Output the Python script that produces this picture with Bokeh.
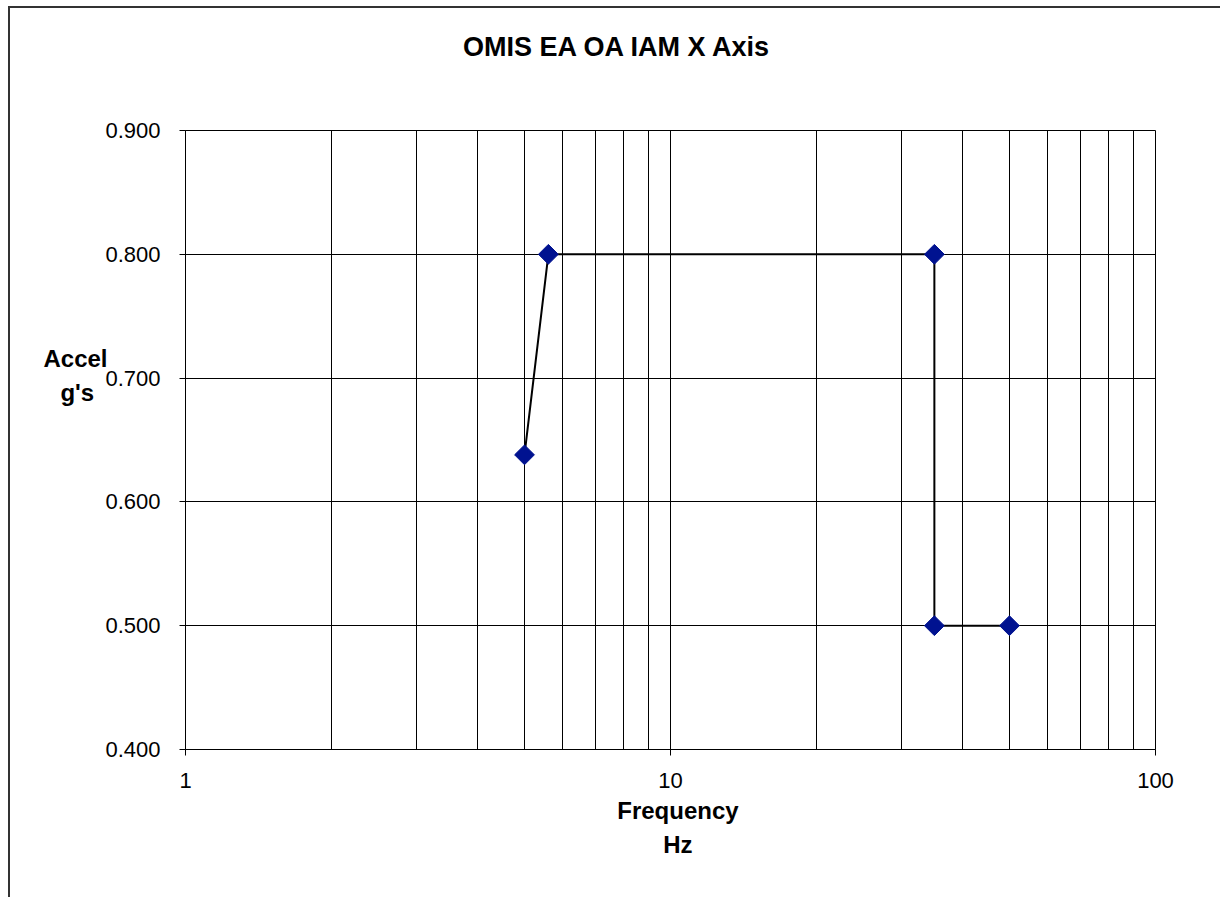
from bokeh.plotting import figure
from bokeh.models import (FixedTicker, Range1d, NumeralTickFormatter,
                          CustomJSTickFormatter, LinearAxis, LogAxis)
from bokeh.embed import file_html
from bokeh.resources import INLINE
import math

# Data
freq_hz = [5.0, 5.6, 35.0, 35.0, 50.0]
accel_g = [0.638, 0.800, 0.800, 0.500, 0.500]

x_major_ticks = [1, 10, 100]
x_minor_ticks = [2, 3, 4, 5, 6, 7, 8, 9, 20, 30, 40, 50, 60, 70, 80, 90]
y_ticks = [0.4, 0.5, 0.6, 0.7, 0.8, 0.9]

title_text = "OMIS EA OA IAM X Axis"
x_label_lines = ["Frequency", "Hz"]
y_label_lines = ["Accel", "g's\u00a0\u00a0"]

FONT = "Liberation Sans"

p = figure(width=1212, height=891, x_axis_type="log",
           x_range=Range1d(1, 100), y_range=Range1d(0.4, 0.9),
           output_backend="svg", toolbar_location=None, title=None,
           min_border_left=175, min_border_right=67,
           min_border_top=122, min_border_bottom=150)
p.styles = {"margin-left": "8px", "margin-top": "6px",
            "border-left": "2px solid #333333", "border-top": "2px solid #333333"}
p.background_fill_color = "white"
p.border_fill_color = "white"
p.outline_line_color = "black"
p.outline_line_width = 1

# main axes
xt = FixedTicker(ticks=x_major_ticks, minor_ticks=x_minor_ticks)
p.xaxis.ticker = xt
p.xaxis.formatter = CustomJSTickFormatter(code="return tick.toFixed(0);")
p.yaxis.ticker = FixedTicker(ticks=y_ticks)
p.yaxis.formatter = NumeralTickFormatter(format="0.000")
for ax in (p.xaxis[0], p.yaxis[0]):
    ax.axis_line_color = "black"
    ax.major_tick_line_color = "black"
    ax.major_tick_out = 6
    ax.major_tick_in = 0
    ax.minor_tick_line_color = None
    ax.major_label_text_font = FONT
    ax.major_label_text_font_size = "22px"
    ax.major_label_text_color = "black"
p.xaxis.major_label_standoff = 17
p.yaxis.major_label_standoff = 19

# grids
p.xgrid.ticker = xt
p.xgrid.grid_line_color = "black"
p.xgrid.minor_grid_line_color = "black"
p.ygrid.ticker = FixedTicker(ticks=y_ticks)
p.ygrid.grid_line_color = "black"

# data
p.line(freq_hz, accel_g, line_color="black", line_width=2)
p.scatter(freq_hz, accel_g, marker="square", size=14, angle=math.pi / 4,
          fill_color="#001290", line_color="#001290")


# text-only axes used to place the title and the axis titles
def text_axis(cls, ticks, labels, size, standoff):
    js = "const L = %r; return L[index];" % (labels,)
    ax = cls(ticker=FixedTicker(ticks=ticks), formatter=CustomJSTickFormatter(code=js))
    ax.axis_line_color = None
    ax.major_tick_line_color = None
    ax.minor_tick_line_color = None
    ax.major_tick_out = 0
    ax.major_tick_in = 0
    ax.major_label_standoff = standoff
    ax.major_label_text_font = FONT
    ax.major_label_text_font_size = size
    ax.major_label_text_font_style = "bold"
    ax.major_label_text_color = "black"
    return ax

p.add_layout(text_axis(LogAxis, [7.78], [title_text], "27px", 69), "above")
p.add_layout(text_axis(LogAxis, [10.36], [x_label_lines[0]], "24px", 6), "below")
p.add_layout(text_axis(LogAxis, [10.36], [x_label_lines[1]], "24px", 4), "below")
p.add_layout(text_axis(LinearAxis, [0.7155, 0.6886], y_label_lines, "24px", -5), "left")

open("out.html", "w").write(file_html(p, INLINE))
